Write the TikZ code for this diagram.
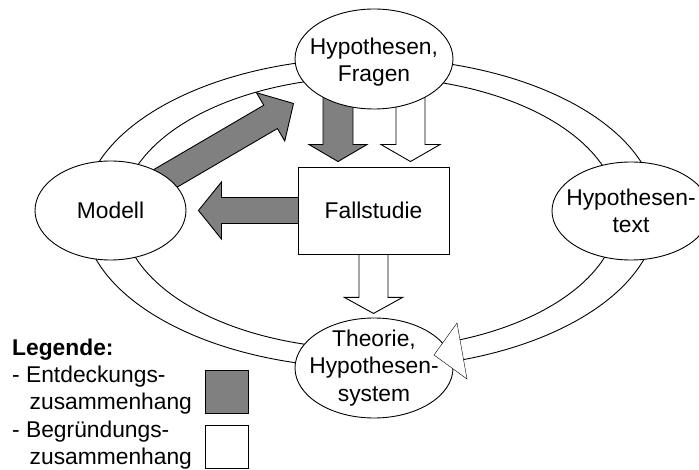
\documentclass[tikz,border=0pt]{standalone}
\usepackage{fontspec}
\setmainfont{Liberation Sans}
\usetikzlibrary{shapes.geometric, calc, positioning}

\definecolor{findgray}{rgb}{0.5,0.5,0.5}

\pgfdeclarelayer{background}
\pgfsetlayers{background,main}

\tikzset{
	bubble/.style = {ellipse, draw, fill=white, minimum width=158pt, minimum height=100pt, inner sep=0pt},
	bubbletext/.style = {align=center, inner sep=0pt},
	finding/.style = {draw, fill=findgray},
	proving/.style = {draw, fill=white},
}

% block arrow: style, from, tip, half shaft, half head, head length
\newcommand{\blockarrow}[6]{%
	\coordinate (ba-base) at ($(#3)!#6!(#2)$);
	\draw[#1] ($(#2)!#4!90:(#3)$) -- ($(ba-base)!#4!-90:(#2)$) -- ($(ba-base)!#5!-90:(#2)$)
	-- (#3) -- ($(ba-base)!#5!90:(#2)$) -- ($(ba-base)!#4!90:(#2)$) -- ($(#2)!#4!-90:(#3)$) -- cycle;
}

\begin{document}
\begin{tikzpicture}[x=1pt, y=-1pt, line width=0.9pt, font=\fontsize{22.8}{27.4}\selectfont]
	\useasboundingbox (0,0) rectangle (699,470);
	
	%----------------------------------------------------------------
	\node(hyp) [bubble, label={[bubbletext, yshift=-3pt]center:{Hypothesen,\\Fragen}}] at (374,59) {};
	\node(modell) [bubble, minimum width=151pt, minimum height=99pt, label={[bubbletext]center:Modell}] at (110.5,210.5) {};
	\node(hyptext) [bubble, minimum height=98pt, label={[bubbletext]center:{Hypothesen-\\text}}] at (631,211) {};
	\node(theorie) [bubble, label={[bubbletext]center:{Theorie,\\Hypothesen-\\system}}] at (374,368) {};
	\node(fall) [draw, fill=white, minimum width=151pt, minimum height=87pt] at (373.5,210.5) {Fallstudie};
	
	%----------------------------------------------------------------
	\coordinate (model-tip) at ($(hyp.center)+(-80.5,44.5)$);
	\coordinate (gray-in) at ($(hyp.center)+(-36,0)$);
	\coordinate (gray-tip) at ($(fall.north)+(-35.5,-5)$);
	\coordinate (white-in) at ($(hyp.center)+(36.5,0)$);
	\coordinate (white-tip) at ($(fall.north)+(37,-5)$);
	\coordinate (case-tip) at ($(modell.east)+(12,0)$);
	\coordinate (theo-tip) at ($(fall.south)+(0,59)$);
	\coordinate (ring-tip) at ($(theorie.center)+(60,-13)$);
	
	\begin{pgfonlayer}{background}
		\begin{scope}[line width=0.9pt]
			\draw (370,213) ellipse [x radius=287pt, y radius=155pt];
			\draw (370,213) ellipse [x radius=248pt, y radius=136pt];
			
			\blockarrow{finding}{modell}{model-tip}{13.5pt}{28pt}{26.5pt}
			\blockarrow{finding}{gray-in}{gray-tip}{15pt}{29pt}{17pt}
			\blockarrow{proving}{white-in}{white-tip}{14.5pt}{29.5pt}{17pt}
			\blockarrow{finding}{fall}{case-tip}{13pt}{28.5pt}{23pt}
			\blockarrow{proving}{fall}{theo-tip}{14.5pt}{29pt}{16pt}
		\end{scope}
	\end{pgfonlayer}
	
	\draw [proving] (457,323) -- (ring-tip) -- (467,379) -- cycle;
	
	%----------------------------------------------------------------
	\node(legende) [anchor=north west, align=left, inner sep=0pt] at (12,338.4) {\textbf{Legende:}\\
		- Entdeckungs-\\
		\hspace*{17.5pt}zusammenhang\\
		- Begründungs-\\
		\hspace*{17.5pt}zusammenhang};
	\node(findbox) [finding, minimum size=43pt, inner sep=0pt] at (226.5,391.5) {};
	\node(provebox) [proving, minimum size=43pt, inner sep=0pt, below=12pt of findbox] {};
	
\end{tikzpicture}
\end{document}
